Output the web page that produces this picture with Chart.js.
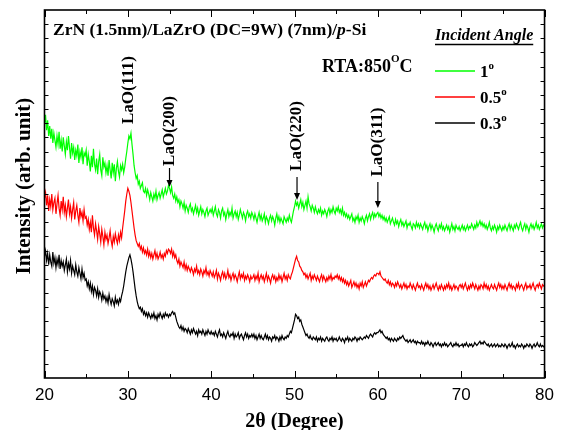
<!DOCTYPE html>
<html>
<head>
<meta charset="utf-8">
<script src="https://cdn.jsdelivr.net/npm/chart.js@4.4.1/dist/chart.umd.min.js"></script>
<style>
  html, body { margin: 0; padding: 0; background: #fff; }
</style>
</head>
<body>
<canvas id="xrd" width="561" height="430"></canvas>
<script>
// 2theta grid of the scan: 20..80 deg, 0.125 deg per point
const TWO_THETA_START = 20;
const TWO_THETA_STEP = 0.125;

// intensity (arb. unit), each curve offset as plotted
const angle1 = [
  180,186,175,182,171,178,169,176,166,173,168,163,171,165,174,162,168,160,170,164,
  158,167,161,171,163,155,166,159,163,154,161,157,165,152,160,156,163,151,159,157,
  161,150,158,153,146,157,149,162,151,147,155,144,153,158,147,143,156,149,152,145,
  150,143,154,147,141,152,145,151,139,148,153,146,142,150,147,151,145,149,155,160,
  166,171,169,173,165,158,150,145,141,143,137,139,134,136,138,132,131,134,129,133,
  130,126,131,128,125,130,127,132,126,129,131,127,130,133,128,131,134,130,132,136,
  134,131,135,129,127,130,125,128,124,126,121,125,123,120,124,118,122,120,117,121,
  123,118,120,116,119,122,117,120,115,118,121,116,119,117,114,118,120,115,117,119,
  117,120,115,118,121,116,114,119,117,113,118,120,115,117,112,116,119,114,117,115,
  120,113,116,118,114,117,112,115,119,116,113,117,115,111,116,118,114,116,113,117,
  115,112,116,113,110,114,117,112,115,111,113,116,110,114,112,109,113,115,111,114,
  112,108,113,116,111,114,110,113,111,109,114,112,110,113,111,115,112,110,114,118,
  121,125,122,124,120,123,126,121,124,119,122,125,120,128,123,121,118,122,120,117,
  121,118,116,119,117,120,115,118,116,119,117,114,118,120,116,119,117,121,118,116,
  120,118,121,117,119,116,120,115,117,114,116,113,115,112,114,116,111,113,110,114,
  112,115,110,113,111,114,112,109,113,115,111,114,116,112,115,117,113,116,114,116,
  117,114,116,113,115,112,114,111,113,110,112,114,109,111,113,110,108,112,109,111,
  107,110,112,108,110,107,109,111,106,109,108,110,107,105,109,108,106,110,107,109,
  106,109,107,105,108,110,106,108,104,107,109,105,108,106,103,107,109,106,104,108,
  106,109,105,107,104,106,108,105,107,103,106,109,105,107,104,108,106,105,107,104,
  106,108,105,107,104,106,108,105,107,106,109,107,105,108,106,110,107,109,111,108,
  110,107,109,106,108,105,107,110,106,104,107,105,108,106,103,107,105,108,106,104,
  107,105,108,106,104,107,109,105,108,106,104,108,106,109,107,105,108,110,106,104,
  107,109,105,108,106,103,107,109,106,108,105,107,110,106,108,105,107,109,106,108,107
];
const angle05 = [
  127,131,122,129,118,126,121,130,119,124,127,116,123,129,120,115,125,119,128,117,
  122,114,120,126,116,121,113,119,124,112,118,122,115,110,120,114,117,111,119,113,
  114,108,112,105,110,103,115,106,101,109,104,98,107,102,96,105,100,94,103,98,
  101,95,99,104,97,93,100,96,102,98,95,101,97,103,99,106,112,118,125,130,
  134,132,129,124,118,112,106,101,97,95,93,95,91,93,89,92,88,90,87,91,
  86,89,85,88,84,87,90,85,88,84,86,89,85,87,84,88,86,90,88,91,
  90,88,91,86,89,85,87,83,81,84,79,82,80,78,82,77,80,76,79,77,
  75,78,76,73,77,75,79,74,76,73,77,75,72,76,74,78,73,75,72,76,
  74,72,75,71,73,76,70,74,72,69,73,75,71,74,70,72,76,71,73,69,
  72,74,70,73,71,68,72,75,70,73,71,74,69,72,70,73,71,68,72,70,
  71,73,69,72,70,74,68,71,73,70,72,68,71,74,69,72,70,67,71,73,
  70,72,68,71,69,73,70,72,68,71,74,70,72,69,73,71,70,73,75,78,
  81,84,86,83,82,79,78,76,75,73,74,71,73,70,72,74,69,72,70,73,
  71,69,72,70,68,71,73,69,72,70,68,71,69,72,70,73,69,71,70,72,
  71,73,70,72,69,71,68,70,67,69,66,68,65,67,69,64,66,68,65,67,
  64,66,63,67,65,68,64,66,68,65,67,69,68,70,71,70,72,73,72,74,
  74,73,75,72,71,70,69,70,68,67,69,66,68,65,67,66,64,67,65,68,
  66,64,66,63,65,67,64,66,63,65,64,67,65,63,66,64,62,65,67,64,
  65,63,66,64,62,65,67,64,66,63,65,62,64,66,63,65,67,64,62,65,
  63,66,64,62,65,63,66,64,67,63,65,62,64,66,63,65,64,62,65,66,
  64,66,63,65,67,64,62,65,63,66,64,67,65,63,66,64,62,65,63,66,
  65,63,67,64,66,63,65,62,64,66,64,63,66,64,62,65,67,64,66,63,
  65,63,66,64,62,65,67,64,66,63,65,64,62,66,64,67,63,65,66,64,
  62,65,67,63,65,64,66,63,65,67,64,62,65,66,64,67,65,63,66,65,66
];
const angle03 = [
  86,90,83,88,80,87,82,79,89,81,85,78,84,80,87,77,83,79,82,76,
  80,84,75,81,77,83,74,79,76,73,80,75,72,78,74,70,77,71,74,69,
  70,65,68,63,67,61,65,59,64,62,58,63,57,61,59,55,60,56,58,54,
  57,53,59,55,52,56,54,51,57,53,55,52,56,54,58,61,65,70,75,79,
  82,85,87,84,80,75,69,63,58,54,51,49,50,47,49,45,47,44,46,43,
  46,44,42,45,43,46,42,44,41,45,43,46,44,42,45,43,46,44,45,43,
  45,44,46,47,45,46,43,40,38,36,35,37,34,36,33,35,34,32,35,33,
  31,34,32,35,33,31,33,30,34,32,33,31,34,32,30,33,31,34,32,31,
  33,31,32,30,33,31,29,32,34,30,31,29,32,30,28,31,33,30,29,31,
  30,32,28,31,29,30,32,28,30,31,29,27,30,32,29,31,28,30,29,31,
  29,31,28,30,27,29,31,28,30,28,27,29,31,28,30,27,29,28,26,29,
  28,30,27,29,28,26,29,27,30,28,27,29,28,30,29,31,33,32,35,38,
  41,45,44,42,43,40,41,38,36,34,32,30,31,29,28,30,28,27,29,28,
  27,29,26,28,27,29,26,28,27,26,28,29,27,26,28,27,29,26,28,27,
  28,26,27,29,27,26,28,27,25,28,27,29,26,28,27,26,28,27,29,28,
  26,28,27,29,28,27,28,29,28,30,29,28,30,31,30,29,31,32,31,32,
  32,33,34,32,33,31,30,29,28,29,27,28,26,28,27,26,28,27,26,28,
  27,29,28,29,30,28,27,26,27,25,26,27,25,26,27,25,26,24,26,25,
  25,24,26,24,25,23,25,24,26,24,23,25,24,22,24,25,23,24,25,23,
  24,22,24,23,25,23,24,22,23,24,25,23,22,24,23,25,23,24,22,23,
  23,24,22,24,23,25,23,22,24,23,24,22,23,25,24,23,24,25,26,24,
  25,24,26,25,24,23,24,22,23,24,22,23,24,22,23,24,22,23,22,24,
  23,22,24,23,21,23,24,22,23,25,22,23,21,23,24,22,23,22,24,23,
  21,23,22,24,23,22,24,23,21,23,24,22,23,25,23,22,24,22,23,22,23
];

const seriesNames = ['1', '0.5', '0.3'];
const seriesColors = ['#00ff00', '#ff0000', '#000000'];
const seriesValues = [angle1, angle05, angle03];

// peak labels and the 2theta they point at
const peakLabels = ['LaO(111)', 'LaO(200)', 'LaO(220)', 'LaO(311)'];
const peakAngles = [30.1, 35.0, 50.3, 60.0];

const xTicks = [20, 30, 40, 50, 60, 70, 80];

const angles = angle1.map((_, i) => TWO_THETA_START + i * TWO_THETA_STEP);

const SERIF = '"Liberation Serif", "Times New Roman", serif';

function drawRuns(ctx, runs, x, y) {
  // runs: [text, font, dy]
  runs.forEach(r => {
    ctx.font = r[1];
    ctx.fillText(r[0], x, y + (r[2] || 0));
    x += ctx.measureText(r[0]).width;
  });
  return x;
}

const decor = {
  id: 'decor',
  afterDatasetsDraw(chart) {
    const {ctx, chartArea: a, scales: {x, y}} = chart;
    ctx.save();
    ctx.strokeStyle = '#000';
    ctx.fillStyle = '#000';

    // inward ticks on all four sides
    ctx.lineWidth = 1;
    ctx.beginPath();
    for (let v = 20; v <= 80; v += 5) {
      const px = Math.round(x.getPixelForValue(v)) + 0.5;
      const len = v % 10 === 0 ? 7 : 4;
      ctx.moveTo(px, a.bottom); ctx.lineTo(px, a.bottom - len);
      ctx.moveTo(px, a.top); ctx.lineTo(px, a.top + len);
    }
    for (let v = 10; v < 260; v += 10) {
      const py = Math.round(y.getPixelForValue(v)) + 0.5;
      ctx.moveTo(a.left, py); ctx.lineTo(a.left + 4, py);
      ctx.moveTo(a.right, py); ctx.lineTo(a.right - 4, py);
    }
    ctx.stroke();

    // frame
    ctx.lineWidth = 1.6;
    ctx.strokeRect(a.left, a.top, a.right - a.left, a.bottom - a.top);

    // sample text
    ctx.textBaseline = 'alphabetic';
    ctx.textAlign = 'left';
    drawRuns(ctx, [
      ['ZrN (1.5nm)/LaZrO (DC=9W) (7nm)/', 'bold 17.5px ' + SERIF],
      ['p', 'italic bold 17.5px ' + SERIF],
      ['-Si', 'bold 17.5px ' + SERIF]
    ], 53, 35);
    drawRuns(ctx, [
      ['RTA:850', 'bold 18px ' + SERIF],
      ['O', 'bold 11px ' + SERIF, -10],
      ['C', 'bold 18px ' + SERIF]
    ], 322, 72);

    // legend
    ctx.font = 'italic bold 16px ' + SERIF;
    const head = 'Incident Angle';
    ctx.fillText(head, 435, 40);
    const hw = ctx.measureText(head).width;
    ctx.lineWidth = 1.3;
    ctx.beginPath();
    ctx.moveTo(435, 44.5); ctx.lineTo(435 + hw, 44.5);
    ctx.stroke();
    seriesNames.forEach((name, i) => {
      const ly = 71 + i * 26;
      ctx.strokeStyle = seriesColors[i];
      ctx.lineWidth = 1.5;
      ctx.beginPath();
      ctx.moveTo(435, ly); ctx.lineTo(475, ly);
      ctx.stroke();
      drawRuns(ctx, [
        [name, 'bold 17px ' + SERIF],
        ['o', 'bold 11px ' + SERIF, -8]
      ], 480, ly + 6);
    });

    // peak labels with arrows
    const labelMid = [90, 131, 136, 142];
    const arrowTop = [null, 168, 177, 182];
    const arrowEnd = [null, 187, 200, 208];
    ctx.strokeStyle = '#000';
    ctx.lineWidth = 1.2;
    peakLabels.forEach((lab, i) => {
      const px = x.getPixelForValue(peakAngles[i]);
      ctx.save();
      ctx.translate(px, labelMid[i]);
      ctx.rotate(-Math.PI / 2);
      ctx.font = 'bold 17px ' + SERIF;
      ctx.textAlign = 'center';
      ctx.textBaseline = 'middle';
      ctx.fillText(lab, 0, 0);
      ctx.restore();
      if (arrowTop[i] !== null) {
        ctx.beginPath();
        ctx.moveTo(px, arrowTop[i]); ctx.lineTo(px, arrowEnd[i] - 5);
        ctx.stroke();
        ctx.beginPath();
        ctx.moveTo(px - 3, arrowEnd[i] - 7);
        ctx.lineTo(px + 3, arrowEnd[i] - 7);
        ctx.lineTo(px, arrowEnd[i]);
        ctx.closePath();
        ctx.fill();
      }
    });
    ctx.restore();
  }
};

new Chart(document.getElementById('xrd'), {
  type: 'line',
  data: {
    datasets: seriesValues.map((vals, i) => ({
      label: seriesNames[i],
      data: vals.map((v, j) => ({x: angles[j], y: v})),
      borderColor: seriesColors[i],
      borderWidth: 1.2,
      pointRadius: 0,
      tension: 0,
      fill: false
    }))
  },
  options: {
    responsive: false,
    animation: false,
    events: [],
    layout: {padding: {top: 10, right: 16, left: 0, bottom: 0}},
    plugins: {legend: {display: false}, tooltip: {enabled: false}},
    scales: {
      x: {
        type: 'linear',
        min: 20, max: 80,
        afterBuildTicks: s => { s.ticks = xTicks.map(v => ({value: v})); },
        afterFit: s => { s.height = 52; },
        grid: {display: false, drawTicks: false},
        border: {display: false},
        ticks: {color: '#000', padding: 7, font: {family: '"Liberation Sans", Arial, sans-serif', size: 17}},
        title: {
          display: true, text: '2θ (Degree)', color: '#000',
          font: {family: SERIF, size: 20, weight: 'bold'},
          padding: {top: 0, bottom: -4}
        }
      },
      y: {
        min: 0, max: 260,
        afterFit: s => { s.width = 44.5; },
        grid: {display: false, drawTicks: false},
        border: {display: false},
        ticks: {display: false},
        title: {
          display: true, text: '\u00a0\u00a0\u00a0Intensity (arb. unit)', color: '#000',
          font: {family: SERIF, size: 21, weight: 'bold'},
          padding: {top: 12, bottom: 0}
        }
      }
    }
  },
  plugins: [decor]
});
</script>
</body>
</html>
